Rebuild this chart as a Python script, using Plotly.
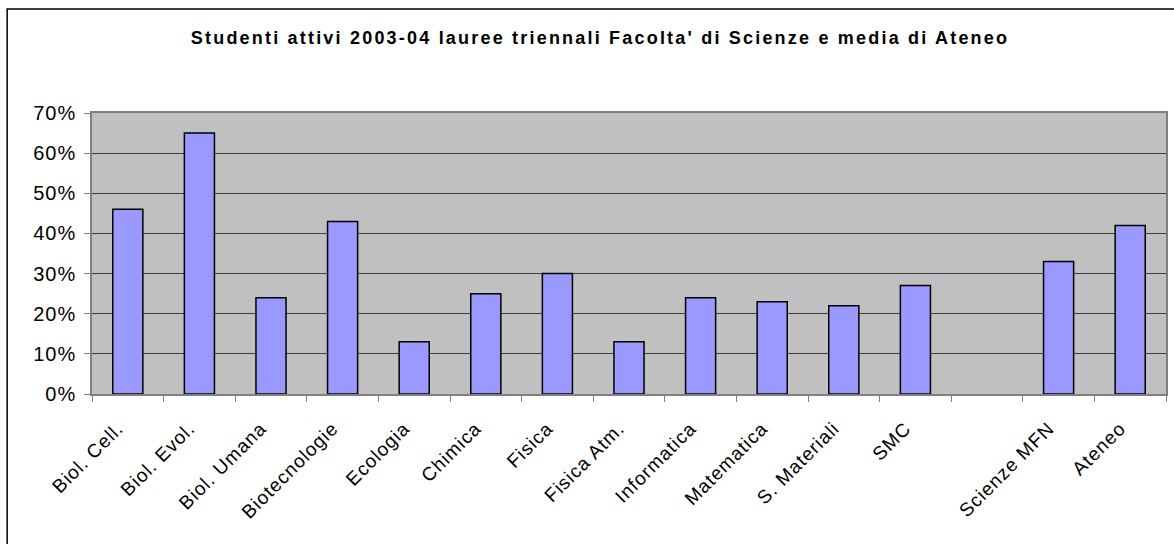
import plotly.graph_objects as go

categories = ["Biol. Cell.", "Biol. Evol.", "Biol. Umana", "Biotecnologie", "Ecologia",
              "Chimica", "Fisica", "Fisica Atm.", "Informatica", "Matematica",
              "S. Materiali", "SMC", " ", "Scienze MFN", "Ateneo"]
values = [0.46, 0.65, 0.24, 0.43, 0.13, 0.25, 0.30, 0.13, 0.24, 0.23, 0.22, 0.27, None, 0.33, 0.42]
y_ticks = [0, 0.1, 0.2, 0.3, 0.4, 0.5, 0.6, 0.7]
y_tick_labels = ["0%", "10%", "20%", "30%", "40%", "50%", "60%", "70%"]
title_text = "Studenti attivi 2003-04 lauree triennali Facolta' di Scienze e media di Ateneo"

FONT = "Arial, Liberation Sans, sans-serif"


def spaced(s, px):
    return '<span style="letter-spacing:%gpx">%s</span>' % (px, s)


fig = go.Figure(go.Bar(
    x=categories, y=values,
    marker=dict(color="#9999FF", line=dict(color="black", width=1.5)),
    hoverinfo="x+y",
))

fig.update_layout(
    width=1174, height=544,
    margin=dict(l=92, r=6, t=113, b=150),
    paper_bgcolor="white", plot_bgcolor="#C0C0C0",
    bargap=0.58,
    showlegend=False,
    font=dict(family=FONT, color="black"),
    title=dict(text=spaced("<b>" + title_text + "</b>", 2.2), x=600 / 1174, xref="container",
               xanchor="center", y=1 - 38 / 544, yref="container", yanchor="middle",
               font=dict(size=18, family=FONT, color="black")),
    xaxis=dict(
        type="category", categoryorder="array", categoryarray=categories,
        tickvals=categories, ticktext=[spaced(c, 1) for c in categories],
        tickangle=-45, tickfont=dict(size=19, family=FONT),
        ticklabelstandoff=14, ticklabelshift=-10,
        showgrid=False, showline=True, linecolor="#808080", linewidth=1.5, mirror=True,
        ticks="outside", tickson="boundaries", ticklen=6, tickcolor="#808080",
    ),
    yaxis=dict(
        range=[0, 0.70], tickvals=y_ticks, ticktext=[spaced(t, 1) for t in y_tick_labels],
        tickfont=dict(size=20, family=FONT), ticklabelstandoff=4,
        showgrid=True, gridcolor="#404040", gridwidth=1, zeroline=False,
        showline=True, linecolor="#808080", linewidth=1.5, mirror=True,
        ticks="outside", ticklen=6, tickcolor="#808080",
    ),
    shapes=[dict(type="rect", xref="paper", yref="paper",
                 x0=-85 / 1076, x1=1.2, y0=-0.6, y1=(394 - 9) / 281,
                 line=dict(color="black", width=1.5), fillcolor="rgba(0,0,0,0)",
                 layer="below")],
)

fig.write_html("out.html", config={"displayModeBar": False},
               post_script="document.body.style.margin='0';")
